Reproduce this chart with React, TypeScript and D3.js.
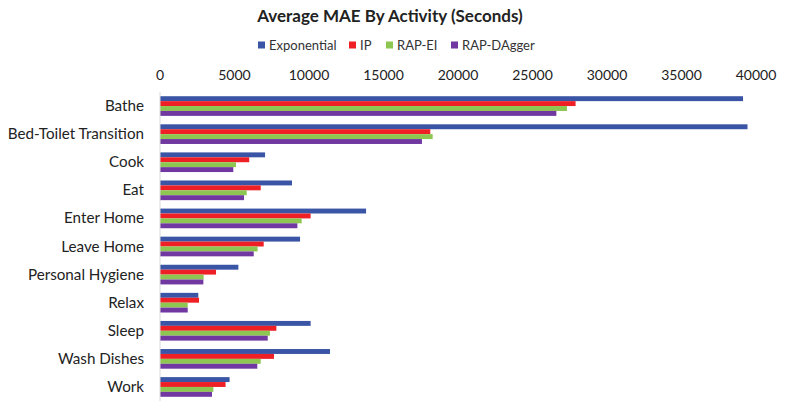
import * as d3 from "d3";

const width = 786;
const height = 411;

const activities = [
  "Bathe",
  "Bed-Toilet Transition",
  "Cook",
  "Eat",
  "Enter Home",
  "Leave Home",
  "Personal Hygiene",
  "Relax",
  "Sleep",
  "Wash Dishes",
  "Work",
];

const seriesNames = ["Exponential", "IP", "RAP-EI", "RAP-DAgger"];
const seriesColors = ["#3a55a5", "#ee2026", "#8dc751", "#7038a0"];

const exponential = [39130, 39430, 7050, 8860, 13830, 9400, 5260, 2570, 10110, 11410, 4670];
const ip = [27890, 18140, 5990, 6760, 10110, 6960, 3760, 2620, 7810, 7650, 4400];
const rapEi = [27310, 18300, 5100, 5820, 9510, 6550, 2930, 1860, 7380, 6760, 3580];
const rapDagger = [26600, 17580, 4920, 5640, 9220, 6290, 2910, 1860, 7230, 6530, 3490];

const xTicks = [0, 5000, 10000, 15000, 20000, 25000, 30000, 35000, 40000];

const font = "Lato, 'Open Sans', sans-serif";

export default function App() {
  const seriesValues = [exponential, ip, rapEi, rapDagger];

  const x = d3.scaleLinear().domain([0, 40000]).range([160, 756]);
  const y = d3.scaleBand<string>().domain(activities).range([92, 401]).paddingInner(0.3).paddingOuter(0.15);
  const inner = d3.scaleBand<string>().domain(seriesNames).range([0, y.bandwidth()]);

  const legendX = [258, 349, 386, 451];

  return (
    <div style={{ position: "fixed", left: 0, top: 0 }}>
      <svg width={width} height={height} style={{ display: "block", background: "#fff" }}>
        <text x={390} y={22} textAnchor="middle" fontFamily={font} fontWeight="bold" fontSize={17} fill="#222">
          Average MAE By Activity (Seconds)
        </text>

        {seriesNames.map((name, i) => (
          <g key={name} transform={`translate(${legendX[i]}, 45)`}>
            <rect x={0} y={-3.5} width={7} height={7} fill={seriesColors[i]} />
            <text x={11} y={4.5} fontFamily={font} fontSize={13} fill="#333">
              {name}
            </text>
          </g>
        ))}

        {xTicks.map((t) => (
          <text key={t} x={x(t)} y={80} textAnchor="middle" fontFamily={font} fontSize={14} fill="#222">
            {t}
          </text>
        ))}

        {activities.map((a) => (
          <text
            key={a}
            x={144}
            y={(y(a) ?? 0) + y.bandwidth() / 2 + 5}
            textAnchor="end"
            fontFamily={font}
            fontSize={15.2}
            fill="#222"
          >
            {a}
          </text>
        ))}

        {seriesNames.map((name, si) =>
          activities.map((a, ai) => (
            <rect
              key={`${name}-${a}`}
              x={x(0)}
              y={(y(a) ?? 0) + (inner(name) ?? 0)}
              width={x(seriesValues[si][ai]) - x(0)}
              height={inner.bandwidth()}
              fill={seriesColors[si]}
            />
          ))
        )}

        <line x1={x(0)} x2={x(0)} y1={92} y2={401} stroke="#d9d9d9" strokeWidth={1} />
      </svg>
    </div>
  );
}
